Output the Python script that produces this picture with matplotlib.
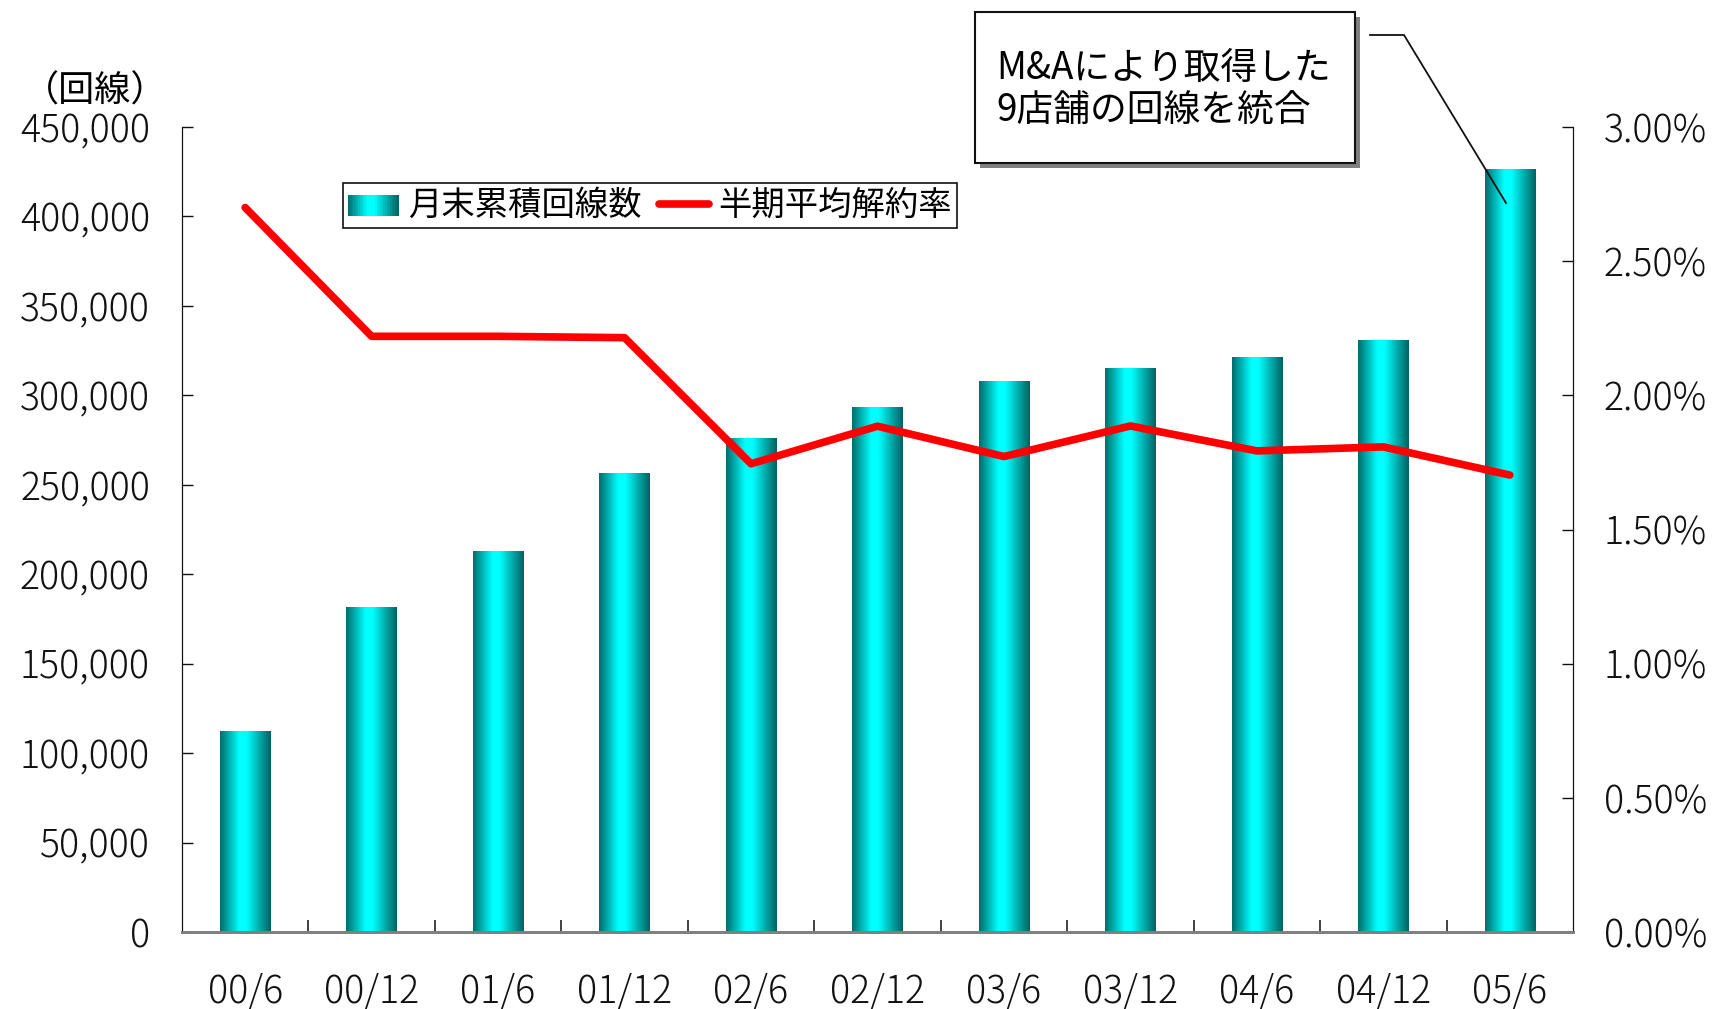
import numpy as np
import matplotlib
matplotlib.use('Agg')
import matplotlib.pyplot as plt
from matplotlib.colors import LinearSegmentedColormap
from matplotlib.patches import Rectangle
from matplotlib.lines import Line2D
from matplotlib.legend_handler import HandlerBase

plt.rcParams['font.family'] = ['Noto Sans CJK JP', 'DejaVu Sans']

periods = ['00/6', '00/12', '01/6', '01/12', '02/6', '02/12',
           '03/6', '03/12', '04/6', '04/12', '05/6']
lines_total = [112000, 181500, 212500, 256500, 276000, 293000,
               308000, 315000, 321000, 330500, 426000]
churn_pct = [2.70, 2.22, 2.22, 2.215, 1.745, 1.885,
             1.772, 1.886, 1.793, 1.808, 1.703]

bar_cmap = LinearSegmentedColormap.from_list(
    'cyl', [(0.0, '#006e6e'), (0.38, '#00ffff'), (0.52, '#00ffff'), (1.0, '#006363')])


class GradHandler(HandlerBase):
    def create_artists(self, legend, orig, xd, yd, w, h, fs, trans):
        n = 30
        return [Rectangle((xd + w * i / n, yd), w / n + 0.3, h,
                          facecolor=bar_cmap((i + 0.5) / n), edgecolor='none',
                          transform=trans) for i in range(n)]


fig = plt.figure(figsize=(17.13, 10.09), dpi=100)
ax = fig.add_axes([0.1062, 0.0763, 0.8121, 0.7978])
ax2 = ax.twinx()

x = np.arange(len(periods))
width = 0.40
bars = ax.bar(x, lines_total, width=width, color='none', edgecolor='none')
grad = bar_cmap(np.linspace(0, 1, 64))[np.newaxis, :, :3]
for b in bars:
    ax.imshow(grad, extent=(b.get_x(), b.get_x() + b.get_width(), 0, b.get_height()),
              aspect='auto', interpolation='bilinear', zorder=2)

ln, = ax2.plot(x, churn_pct, color='#ff0000', linewidth=5.5,
               solid_capstyle='round', solid_joinstyle='round')

ax.set_xlim(-0.5, len(periods) - 0.5)
ax.set_ylim(0, 450000)
ax2.set_ylim(0, 3.0)

ax.set_yticks(np.arange(0, 450001, 50000))
ax.set_yticklabels([f'{v:,}' for v in range(0, 450001, 50000)], fontweight='light')
ax2.set_yticks(np.arange(0, 3.01, 0.5))
ax2.set_yticklabels([f'{v:.2f}%' for v in np.arange(0, 3.01, 0.5)], fontweight='light')
ax.set_xticks(x)
ax.set_xticklabels(periods, fontweight='light')
ax.set_xticks(np.arange(0.5, len(periods) - 1, 1.0), minor=True)

ax.tick_params(axis='y', direction='in', length=8, width=1, labelsize=27, pad=23,
               colors='#111111')
ax2.tick_params(axis='y', direction='in', length=8, width=1, labelsize=27, pad=22,
                colors='#111111')
ax.tick_params(axis='x', which='major', length=0, labelsize=27, pad=29, colors='#111111')
ax.tick_params(axis='x', which='minor', direction='in', length=9, width=1.2, color='#222222')

for a in (ax, ax2):
    a.spines['top'].set_visible(False)
    a.spines['left'].set_color('#111111')
    a.spines['right'].set_color('#111111')
    a.spines['bottom'].set_color('#808080')
    a.spines['bottom'].set_linewidth(2)

fig.text(0.098, 0.909, '（回線）', fontsize=26, ha='right', va='center')

leg = fig.legend([Rectangle((0, 0), 1, 1), ln], ['月末累積回線数', '半期平均解約率'],
                 handler_map={Rectangle: GradHandler()},
                 loc='upper left', bbox_to_anchor=(0.2005, 0.8185), ncol=2,
                 fontsize=24, frameon=True, fancybox=False, framealpha=1,
                 edgecolor='#111111', handlelength=1.5, handleheight=0.6,
                 handletextpad=0.3, columnspacing=0.5, borderpad=0.15,
                 borderaxespad=0)
leg.get_frame().set_linewidth(1.2)

# callout box with drop shadow
bx0, bx1 = 975 / 1713, 1355 / 1713
by0, by1 = 1 - 163 / 1009, 1 - 12 / 1009
fig.patches.append(Rectangle((bx0 + 5 / 1713, by0 - 5 / 1009), bx1 - bx0, by1 - by0,
                             transform=fig.transFigure, facecolor='#808080',
                             edgecolor='none', zorder=5))
fig.patches.append(Rectangle((bx0, by0), bx1 - bx0, by1 - by0,
                             transform=fig.transFigure, facecolor='white',
                             edgecolor='#111111', linewidth=1.5, zorder=6))
fig.text(996 / 1713, 1 - 68 / 1009, 'M&Aにより取得した', fontsize=26.5,
         ha='left', va='center', zorder=7)
fig.text(996 / 1713, 1 - 111 / 1009, '9店舗の回線を統合', fontsize=26.5,
         ha='left', va='center', zorder=7)
fig.lines.append(Line2D([1370 / 1713, 1404 / 1713, 1506 / 1713],
                        [1 - 35 / 1009, 1 - 35 / 1009, 1 - 203 / 1009],
                        transform=fig.transFigure, color='#111111', linewidth=1.3,
                        zorder=8))

fig.savefig('out.png', dpi=100, facecolor='white')
